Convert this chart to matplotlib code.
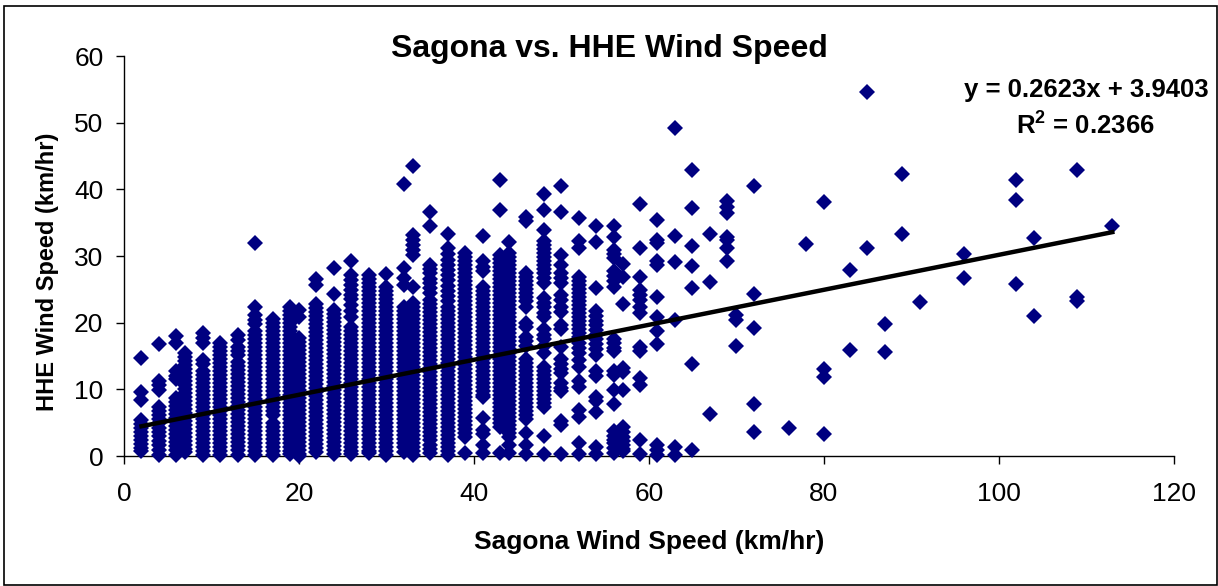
import matplotlib
matplotlib.use('Agg')
import matplotlib.pyplot as plt
from matplotlib.patches import Rectangle

# Sagona wind speed (km/hr) columns, HHE readings for each one
y_02 = [14.7, 9.6, 8.4, 5.4, 4.8, 4.2, 3.6, 3.0, 2.4, 1.8, 1.2, 0.7]
y_04 = [16.8, 11.3, 10.7, 9.9, 7.4, 6.8, 6.2, 5.5, 4.9, 4.2, 3.6, 3.0, 2.3, 1.6, 0.9, 0.2]
y_06 = [18.0, 17.0, 12.7, 12.0, 11.5, 8.7, 8.1, 7.5, 6.9, 6.3, 5.7, 5.1, 4.5, 3.9, 3.3, 2.7, 2.1, 1.5, 0.9, 0.2]
y_07 = [15.5, 14.9, 14.3, 13.7, 13.0, 12.4, 11.8, 11.2, 10.6, 10.0, 9.4, 8.8, 8.2, 7.6, 7.0, 6.4, 5.8, 5.2, 4.6, 4.0, 3.4, 2.8, 2.2, 1.6, 1.1, 0.6]
y_09 = [18.4, 17.7, 17.0, 14.4, 13.8, 12.7, 12.1, 11.5, 10.9, 10.3, 9.7, 9.1, 8.5, 7.9, 7.3, 6.7, 6.1, 5.5, 4.9, 4.3, 3.7, 3.1, 2.5, 1.9, 1.3, 0.7, 0.1]
y_11 = [16.9, 16.3, 15.7, 15.1, 14.5, 13.9, 13.3, 12.7, 12.1, 11.5, 10.9, 10.3, 9.7, 9.1, 8.5, 7.9, 7.3, 6.7, 6.1, 5.5, 4.9, 4.3, 3.7, 3.1, 2.5, 1.9, 1.3, 0.7, 0.2]
y_13 = [18.2, 17.4, 16.4, 15.8, 15.2, 14.1, 13.5, 12.9, 12.3, 11.7, 11.1, 10.5, 9.9, 9.3, 8.7, 8.1, 7.5, 6.9, 6.3, 5.7, 5.1, 4.5, 3.9, 3.3, 2.7, 2.1, 1.5, 0.9, 0.2]
y_15 = [32.0, 22.3, 21.1, 20.4, 19.8, 18.7, 18.1, 17.5, 16.9, 16.3, 15.7, 15.1, 14.5, 13.9, 13.3, 12.7, 12.1, 11.5, 10.9, 10.3, 9.7, 9.1, 8.5, 7.9, 7.3, 6.7, 6.1, 5.5, 4.9, 4.3, 3.7, 3.1, 2.5, 1.9, 1.3, 0.7, 0.2]
y_17 = [20.6, 20.0, 19.4, 18.8, 18.2, 17.6, 17.0, 16.4, 15.8, 15.2, 14.6, 14.0, 13.4, 12.8, 12.2, 11.6, 11.0, 10.4, 9.8, 9.2, 8.6, 8.0, 7.4, 6.8, 6.2, 4.9, 4.3, 3.7, 3.1, 2.5, 1.9, 1.3, 0.7, 0.1]
y_19 = [22.3, 21.7, 21.1, 20.5, 19.9, 19.3, 18.7, 18.1, 17.5, 16.9, 16.3, 15.7, 15.1, 14.5, 13.9, 13.3, 12.7, 12.1, 11.5, 10.9, 10.3, 9.7, 9.1, 8.5, 7.9, 7.3, 6.7, 6.1, 5.5, 4.9, 4.3, 3.7, 3.1, 2.5, 1.9, 1.3, 0.7, 0.3]
y_20 = [21.9, 20.9, 17.7, 17.1, 16.5, 15.9, 15.3, 14.7, 14.1, 13.5, 12.9, 12.3, 11.7, 11.1, 10.5, 9.9, 9.3, 8.7, 8.1, 7.5, 6.9, 6.3, 5.7, 5.1, 4.5, 3.9, 3.3, 2.7, 2.1, 1.5, 0.9, 0.3, 0.0]
y_22 = [26.5, 25.7, 22.8, 22.2, 21.6, 21.0, 20.4, 19.8, 19.2, 18.6, 18.0, 17.4, 16.8, 16.2, 15.6, 15.0, 14.4, 13.8, 13.2, 12.6, 12.0, 11.4, 10.8, 10.2, 9.6, 9.0, 8.4, 7.8, 7.2, 6.6, 6.0, 5.4, 4.8, 4.2, 3.6, 3.0, 2.4, 1.8, 1.2, 0.6]
y_24 = [28.2, 24.3, 21.9, 21.3, 20.7, 20.1, 19.5, 18.9, 18.3, 17.7, 17.1, 16.5, 15.9, 15.3, 14.7, 14.1, 13.5, 12.9, 12.3, 11.7, 11.1, 10.5, 9.9, 9.3, 8.7, 8.1, 7.5, 6.9, 6.3, 5.7, 5.1, 4.5, 3.9, 3.3, 2.7, 2.1, 1.5, 0.9, 0.3]
y_26 = [29.3, 27.2, 26.4, 25.6, 24.9, 24.2, 23.5, 22.7, 21.7, 20.8, 19.4, 18.8, 18.2, 17.6, 17.0, 16.4, 15.8, 15.2, 14.6, 14.0, 13.4, 12.8, 12.2, 11.6, 11.0, 10.4, 9.8, 9.2, 8.6, 8.0, 7.4, 6.8, 6.2, 5.6, 5.0, 4.4, 3.8, 3.2, 2.6, 2.0, 1.4, 0.8, 0.3]
y_28 = [27.2, 26.6, 26.0, 25.4, 24.8, 24.2, 23.6, 23.0, 22.4, 21.8, 21.2, 20.6, 20.0, 19.4, 18.8, 18.2, 17.6, 17.0, 16.4, 15.8, 15.2, 14.6, 14.0, 13.4, 12.8, 12.2, 11.6, 11.0, 10.4, 9.8, 9.2, 8.6, 8.0, 7.4, 6.8, 6.2, 5.6, 5.0, 4.4, 3.8, 3.2, 2.6, 2.0, 1.4, 0.8, 0.4]
y_30 = [27.3, 25.4, 24.8, 24.2, 23.6, 23.0, 22.4, 21.8, 21.2, 20.6, 20.0, 19.4, 18.8, 18.2, 17.6, 17.0, 16.4, 15.8, 15.2, 14.6, 14.0, 13.4, 12.8, 12.2, 11.6, 11.0, 10.4, 9.8, 9.2, 8.6, 8.0, 7.4, 6.8, 6.2, 5.6, 5.0, 4.4, 3.8, 3.2, 2.6, 2.0, 1.4, 0.8, 0.2]
y_32 = [40.8, 28.2, 26.7, 25.7, 22.4, 21.8, 21.2, 20.6, 20.0, 19.4, 18.8, 18.2, 17.6, 17.0, 16.4, 15.8, 15.2, 14.6, 14.0, 13.4, 12.8, 12.2, 11.6, 11.0, 10.4, 9.8, 9.2, 8.6, 8.0, 7.4, 6.8, 6.2, 5.6, 5.0, 4.4, 3.8, 3.2, 2.6, 2.0, 1.4, 0.6]
y_33 = [43.5, 33.2, 32.4, 31.7, 30.9, 30.2, 25.3, 22.9, 22.3, 21.7, 21.1, 20.5, 19.9, 19.3, 18.7, 18.1, 17.5, 16.9, 16.3, 15.7, 15.1, 14.5, 13.9, 13.3, 12.7, 12.1, 11.5, 10.9, 10.3, 9.7, 9.1, 8.5, 7.9, 7.3, 6.7, 6.1, 5.5, 4.9, 4.3, 3.7, 3.1, 2.5, 1.9, 1.3, 0.7, 0.2]
y_35 = [36.6, 34.5, 28.7, 28.0, 27.4, 26.6, 25.9, 25.2, 24.4, 23.4, 22.8, 22.2, 21.6, 21.0, 20.4, 19.8, 19.2, 18.6, 18.0, 17.4, 16.8, 16.2, 15.6, 15.0, 14.4, 13.8, 13.2, 12.6, 12.0, 11.4, 10.8, 10.2, 9.6, 9.0, 8.4, 7.8, 7.2, 6.6, 6.0, 5.4, 4.8, 4.2, 3.6, 3.0, 2.4, 1.6, 1.0, 0.4]
y_37 = [33.3, 31.2, 30.3, 29.4, 28.6, 27.9, 27.1, 26.4, 25.5, 24.7, 24.0, 23.2, 22.4, 21.8, 21.2, 20.6, 20.0, 19.4, 18.8, 18.2, 17.6, 17.0, 16.4, 15.8, 15.2, 14.6, 14.0, 13.4, 12.8, 12.2, 11.6, 11.0, 10.4, 9.8, 9.2, 8.6, 8.0, 7.4, 6.8, 6.2, 5.6, 5.0, 4.4, 3.8, 3.2, 2.6, 2.0, 1.4, 0.8, 0.2]
y_39 = [30.4, 29.8, 29.2, 28.6, 28.0, 27.4, 26.8, 26.2, 25.6, 25.0, 24.4, 23.8, 23.2, 22.6, 22.0, 21.4, 20.8, 20.2, 19.6, 19.0, 18.4, 17.8, 17.2, 16.6, 16.0, 15.4, 14.8, 14.2, 13.6, 13.0, 12.4, 11.8, 11.2, 10.6, 10.0, 9.4, 8.8, 8.2, 7.6, 7.0, 6.4, 5.8, 5.2, 4.6, 4.0, 3.4, 2.9, 0.4]
y_41 = [33.0, 29.2, 28.4, 27.7, 25.4, 24.8, 24.2, 23.6, 23.0, 22.4, 21.8, 21.2, 20.6, 20.0, 19.4, 18.8, 18.2, 17.6, 17.0, 16.4, 15.8, 15.2, 14.6, 14.0, 13.4, 12.8, 12.2, 11.6, 11.0, 10.4, 9.8, 9.2, 8.9, 5.7, 3.9, 3.3, 1.7, 0.4]
y_43 = [41.4, 36.9, 30.2, 29.6, 29.0, 28.4, 27.8, 27.2, 26.6, 26.0, 25.4, 24.8, 24.2, 23.6, 23.0, 22.4, 21.8, 21.2, 20.6, 20.0, 19.4, 18.8, 18.2, 17.6, 17.0, 16.4, 15.8, 15.2, 14.6, 14.0, 13.4, 12.8, 12.2, 11.6, 11.0, 10.4, 9.8, 9.2, 8.6, 8.0, 7.4, 6.8, 6.2, 5.6, 5.0, 4.4, 0.4]
y_44 = [32.1, 30.4, 29.8, 29.2, 28.6, 28.0, 27.4, 26.8, 26.2, 25.6, 25.0, 24.4, 23.8, 23.2, 22.6, 22.0, 21.4, 20.8, 20.2, 19.6, 19.0, 18.4, 17.8, 17.2, 16.6, 16.0, 15.4, 14.8, 14.2, 13.6, 13.0, 12.4, 11.8, 11.2, 10.6, 10.0, 9.4, 8.8, 8.2, 7.6, 7.0, 6.4, 5.8, 5.2, 4.6, 4.0, 3.4, 2.9, 1.7, 0.4]
y_46 = [35.9, 35.3, 27.4, 26.8, 26.2, 25.6, 25.0, 24.4, 23.8, 23.2, 22.4, 19.9, 19.3, 17.9, 17.2, 16.5, 14.6, 14.0, 13.4, 12.8, 12.2, 11.6, 11.0, 10.4, 9.8, 9.2, 8.6, 8.0, 7.4, 6.8, 6.2, 5.6, 3.5, 1.7, 0.3]
y_48 = [39.3, 36.9, 33.9, 32.2, 31.6, 31.0, 30.4, 29.8, 29.2, 28.6, 28.0, 27.4, 26.7, 25.9, 23.7, 23.0, 22.4, 21.4, 20.8, 19.0, 18.2, 17.5, 16.5, 15.5, 13.4, 12.8, 12.2, 11.6, 11.0, 10.4, 9.8, 9.2, 8.6, 8.0, 7.4, 3.0, 0.3]
y_50 = [40.5, 36.6, 30.2, 28.7, 27.4, 26.7, 25.9, 24.2, 23.4, 22.4, 21.6, 19.7, 19.0, 16.4, 14.5, 13.8, 13.1, 12.4, 10.9, 10.2, 9.7, 5.2, 4.6, 0.3]
y_52 = [35.7, 32.2, 31.2, 26.9, 26.3, 25.7, 25.1, 24.5, 23.9, 23.3, 22.7, 22.1, 21.5, 20.9, 20.3, 19.7, 19.1, 18.5, 17.9, 16.9, 16.2, 15.4, 14.4, 13.4, 11.2, 10.4, 6.9, 5.9, 1.9, 0.3]
y_54 = [34.5, 32.1, 25.2, 21.7, 21.0, 20.3, 19.6, 18.9, 18.2, 17.5, 16.8, 16.1, 15.2, 12.7, 12.0, 8.9, 8.2, 6.6, 1.3, 0.3]
y_56 = [34.5, 32.9, 30.9, 30.3, 29.7, 27.8, 27.0, 26.3, 25.4, 17.5, 16.9, 16.2, 15.7, 12.7, 12.2, 9.9, 7.8, 3.7, 3.0, 2.4, 1.9, 1.2, 0.4]
y_57 = [28.8, 26.9, 22.8, 13.2, 12.6, 9.9, 4.4, 3.6, 2.9, 2.2, 1.7, 1.1, 0.7]
y_59 = [37.8, 31.2, 26.9, 24.9, 24.2, 23.4, 22.4, 21.4, 16.4, 15.7, 11.7, 10.7, 2.4, 0.3]
y_61 = [35.4, 32.4, 31.9, 29.2, 28.7, 23.9, 20.8, 18.8, 16.8, 1.7, 0.9, 0.2]
y_63 = [49.2, 33.0, 29.1, 20.4, 1.3, 0.2]
y_65 = [42.9, 37.2, 31.5, 28.5, 25.2, 13.8, 0.9]
y_67 = [33.3, 26.1, 6.3]
y_69 = [38.2, 37.4, 36.5, 32.9, 32.4, 31.2, 29.3]
y_70 = [21.1, 20.4, 16.5]
y_72 = [40.5, 24.3, 19.2, 7.8, 3.6]
y_76 = [4.2]
y_78 = [31.8]
y_80 = [38.1, 13.0, 11.9, 3.3]
y_83 = [27.9, 15.9]
y_85 = [54.6, 31.2]
y_87 = [19.8, 15.6]
y_89 = [42.3, 33.3]
y_91 = [23.1]
y_96 = [30.3, 26.7]
y_102 = [41.4, 38.4, 25.8]
y_104 = [32.7, 21.0]
y_109 = [42.9, 23.9, 23.3]
y_113 = [34.5]

sagona = [2, 4, 6, 7, 9, 11, 13, 15, 17, 19, 20, 22, 24, 26, 28, 30, 32, 33, 35, 37, 39, 41, 43, 44, 46,
          48, 50, 52, 54, 56, 57, 59, 61, 63, 65, 67, 69, 70, 72, 76, 78, 80, 83, 85, 87, 89, 91, 96, 102,
          104, 109, 113]
hhe = [y_02, y_04, y_06, y_07, y_09, y_11, y_13, y_15, y_17, y_19, y_20, y_22, y_24, y_26, y_28, y_30,
       y_32, y_33, y_35, y_37, y_39, y_41, y_43, y_44, y_46, y_48, y_50, y_52, y_54, y_56, y_57, y_59,
       y_61, y_63, y_65, y_67, y_69, y_70, y_72, y_76, y_78, y_80, y_83, y_85, y_87, y_89, y_91, y_96,
       y_102, y_104, y_109, y_113]

trend_x = [2, 113]
trend_y = [4.46, 33.58]

x_ticks = [0, 20, 40, 60, 80, 100, 120]
y_ticks = [0, 10, 20, 30, 40, 50, 60]

W, H = 1218, 586
plt.rcParams['font.family'] = ['Liberation Sans', 'DejaVu Sans']
plt.rcParams['mathtext.fontset'] = 'custom'
plt.rcParams['mathtext.bf'] = 'Liberation Sans:bold'

fig = plt.figure(figsize=(W / 100, H / 100), dpi=100)
ax = fig.add_axes([124 / W, 1 - 456 / H, (1173.5 - 124) / W, 400 / H])

for x, ys in zip(sagona, hhe):
    ax.plot([x] * len(ys), ys, linestyle='none', marker='D', markersize=8.6, color='#000080',
            markeredgewidth=0, clip_on=False, zorder=3)
ax.plot(trend_x, trend_y, color='black', linewidth=3.2, zorder=4)

ax.set_xlim(0, 120)
ax.set_ylim(0, 60)
ax.set_xticks(x_ticks)
ax.set_yticks(y_ticks)
ax.tick_params(axis='both', labelsize=19, length=5.8, width=1)
ax.tick_params(axis='x', pad=13)
ax.tick_params(axis='y', pad=9)
ax.spines['top'].set_visible(False)
ax.spines['right'].set_visible(False)
for s in ['left', 'bottom']:
    ax.spines[s].set_linewidth(1)

fig.text(609.5 / W, 1 - 49 / H, 'Sagona vs. HHE Wind Speed', fontsize=23, fontweight='bold', ha='center', va='center')
fig.text(649 / W, 1 - 542 / H, 'Sagona Wind Speed (km/hr)', fontsize=19, fontweight='bold', ha='center', va='center')
fig.text(48 / W, 1 - 272 / H, 'HHE Wind Speed (km/hr)', fontsize=17, fontweight='bold', ha='center', va='center',
         rotation=90)
fig.text(1086 / W, 1 - 90 / H, 'y = 0.2623x + 3.9403', fontsize=18.5, fontweight='bold', ha='center', va='center')
fig.text(1085.5 / W, 1 - 126 / H, r'R$\mathbf{^2}$ = 0.2366', fontsize=18.5, fontweight='bold', ha='center', va='center')

fig.add_artist(Rectangle((4 / W, 1 - 585 / H), 1212.5 / W, 579 / H, transform=fig.transFigure, fill=False,
                         edgecolor='black', linewidth=1.2))

fig.savefig('out.png', dpi=100)
